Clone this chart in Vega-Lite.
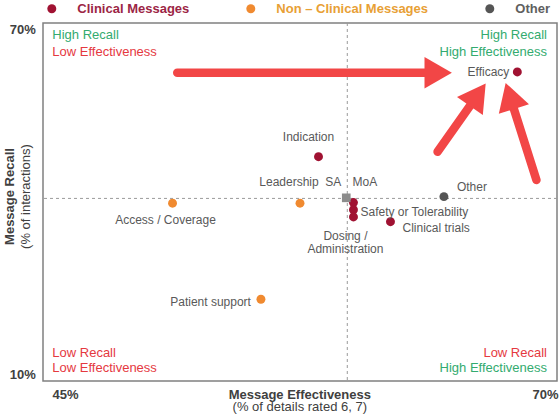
{
  "$schema": "https://vega.github.io/schema/vega-lite/v6.json",
  "width": 514,
  "height": 358,
  "autosize": {"type": "none"},
  "padding": {"left": 43, "top": 23, "right": 3, "bottom": 36},
  "background": "white",
  "config": {
    "font": "Liberation Sans",
    "view": {"stroke": "#808080", "strokeWidth": 1.5},
    "axis": {"grid": false, "ticks": false, "domain": false, "labelFont": "Liberation Sans", "titleFont": "Liberation Sans"},
    "text": {"font": "Liberation Sans"},
    "legend": {"labelFont": "Liberation Sans"}
  },
  "datasets": {
    "points": [
      {"name": "Efficacy", "type": "Clinical Messages", "x": 68.07, "y": 61.8},
      {"name": "Indication", "type": "Clinical Messages", "x": 58.4, "y": 47.6},
      {"name": "Leadership", "type": "Non – Clinical Messages", "x": 57.5, "y": 39.8},
      {"name": "Access / Coverage", "type": "Non – Clinical Messages", "x": 51.3, "y": 39.8},
      {"name": "SA", "type": "Average", "x": 59.75, "y": 40.7},
      {"name": "MoA", "type": "Clinical Messages", "x": 60.1, "y": 39.9},
      {"name": "Safety or Tolerability", "type": "Clinical Messages", "x": 60.1, "y": 38.7},
      {"name": "Dosing /\nAdministration", "type": "Clinical Messages", "x": 60.1, "y": 37.5},
      {"name": "Clinical trials", "type": "Clinical Messages", "x": 61.9, "y": 36.7},
      {"name": "Other", "type": "Other", "x": 64.5, "y": 40.9},
      {"name": "Patient support", "type": "Non – Clinical Messages", "x": 55.6, "y": 23.7}
    ],
    "cross": [{"x": 59.8, "y": 40.6}],
    "quadrants": [
      {"corner": "top-left", "recall": "High Recall", "effectiveness": "Low Effectiveness"},
      {"corner": "top-right", "recall": "High Recall", "effectiveness": "High Effectiveness"},
      {"corner": "bottom-left", "recall": "Low Recall", "effectiveness": "Low Effectiveness"},
      {"corner": "bottom-right", "recall": "Low Recall", "effectiveness": "High Effectiveness"}
    ],
    "arrows": [
      {"arrow": "horizontal", "x": 51.53, "y": 61.67, "x2": 64.0, "y2": 61.67},
      {"arrow": "diagonal", "x": 64.19, "y": 48.43, "x2": 66.02, "y2": 57.34},
      {"arrow": "steep", "x": 69.0, "y": 43.69, "x2": 67.77, "y2": 57.03}
    ]
  },
  "layer": [
    {
      "data": {"name": "cross"},
      "layer": [
        {
          "mark": {"type": "rule", "color": "#9a9a9a", "strokeDash": [3, 3], "strokeWidth": 1},
          "encoding": {
            "x": {"field": "x", "type": "quantitative", "scale": {"domain": [45, 70], "nice": false, "zero": false},
              "axis": {"orient": "bottom", "title": "(% of details rated 6, 7)", "labels": false, "ticks": false, "domain": false, "grid": false,
                "titleFontSize": 13, "titleFontWeight": "normal", "titleColor": "#404040", "titleX": 256.3, "titleY": 25, "titleBaseline": "middle", "titleAlign": "center"}}
          }
        },
        {
          "mark": {"type": "rule", "color": "#9a9a9a", "strokeDash": [3, 3], "strokeWidth": 1},
          "encoding": {
            "y": {"field": "y", "type": "quantitative", "scale": {"domain": [10, 70], "nice": false, "zero": false},
              "axis": {"orient": "left", "title": "(% of interactions)", "labels": false, "ticks": false, "domain": false, "grid": false,
                "titleFontSize": 13, "titleFontWeight": "normal", "titleColor": "#404040", "titleAngle": 270, "titleX": -17.7, "titleY": 173, "titleBaseline": "middle", "titleAlign": "center"}}
          }
        }
      ]
    },
    {
      "data": {"name": "points"},
      "layer": [
        {
          "transform": [{"filter": "datum.type !== 'Average'"}],
          "mark": {"type": "circle", "size": 80, "opacity": 1},
          "encoding": {
            "x": {"field": "x", "type": "quantitative", "scale": {"domain": [45, 70], "nice": false, "zero": false},
              "axis": {"orient": "bottom", "values": [45, 70], "labelExpr": "datum.value + '%'", "title": "Message Effectiveness", "labelFontSize": 13, "labelFontWeight": "bold", "labelColor": "#404040",
                "labelPadding": 7, "labelAlign": {"condition": {"test": "datum.value < 50", "value": "left"}, "value": "right"},
                "labelOffset": {"condition": {"test": "datum.value < 50", "value": 9}, "value": 1},
                "titleFontSize": 13, "titleFontWeight": "bold", "titleColor": "#404040", "titleX": 256.3, "titleY": 13, "titleBaseline": "middle", "titleAlign": "center"}},
            "y": {"field": "y", "type": "quantitative", "scale": {"domain": [10, 70], "nice": false, "zero": false},
              "axis": {"orient": "left", "values": [10, 70], "labelExpr": "datum.value + '%'", "title": "Message Recall", "labelFontSize": 13, "labelFontWeight": "bold", "labelColor": "#404040",
                "labelPadding": 7.7, "labelFlush": true,
                "titleFontSize": 13, "titleFontWeight": "bold", "titleColor": "#404040", "titleAngle": 270, "titleX": -33.4, "titleY": 173, "titleBaseline": "middle", "titleAlign": "center"}},
            "color": {"field": "type", "type": "nominal",
              "scale": {"domain": ["Clinical Messages", "Non – Clinical Messages", "Other"], "range": ["#a01232", "#f08a30", "#555555"]},
              "legend": {"orient": "none", "legendX": 2.3, "legendY": -21, "direction": "horizontal", "title": null, "padding": 0,
                "symbolType": "circle", "symbolSize": 80, "symbolOpacity": 1, "symbolStrokeWidth": 0,
                "labelFontSize": 13, "labelFontWeight": "bold", "labelOffset": 19, "labelLimit": 300, "columnPadding": 55,
                "encode": {"labels": {"update": {"fill": {"signal": "datum.label === 'Clinical Messages' ? '#9c2545' : datum.label === 'Other' ? '#606060' : '#e8a035'"}}}}}}
          }
        },
        {
          "transform": [{"filter": "datum.type === 'Average'"}],
          "mark": {"type": "square", "size": 75, "color": "#8c8c8c", "opacity": 1},
          "encoding": {"x": {"field": "x", "type": "quantitative"}, "y": {"field": "y", "type": "quantitative"}}
        },
        {
          "transform": [{"filter": "datum.name === 'Efficacy'"}],
          "mark": {"type": "text", "align": "right", "baseline": "middle", "dx": -8, "dy": 0, "fontSize": 12, "color": "#595959"},
          "encoding": {"x": {"field": "x", "type": "quantitative"}, "y": {"field": "y", "type": "quantitative"}, "text": {"field": "name"}}
        },
        {
          "transform": [{"filter": "datum.name === 'Indication'"}],
          "mark": {"type": "text", "align": "center", "baseline": "middle", "dx": -10, "dy": -20, "fontSize": 12, "color": "#595959"},
          "encoding": {"x": {"field": "x", "type": "quantitative"}, "y": {"field": "y", "type": "quantitative"}, "text": {"field": "name"}}
        },
        {
          "transform": [{"filter": "datum.name === 'Leadership'"}],
          "mark": {"type": "text", "align": "center", "baseline": "middle", "dx": -11, "dy": -21, "fontSize": 12, "color": "#595959"},
          "encoding": {"x": {"field": "x", "type": "quantitative"}, "y": {"field": "y", "type": "quantitative"}, "text": {"field": "name"}}
        },
        {
          "transform": [{"filter": "datum.name === 'SA'"}],
          "mark": {"type": "text", "align": "right", "baseline": "middle", "dx": -5, "dy": -16, "fontSize": 12, "color": "#595959"},
          "encoding": {"x": {"field": "x", "type": "quantitative"}, "y": {"field": "y", "type": "quantitative"}, "text": {"field": "name"}}
        },
        {
          "transform": [{"filter": "datum.name === 'MoA'"}],
          "mark": {"type": "text", "align": "left", "baseline": "middle", "dx": -1, "dy": -21, "fontSize": 12, "color": "#595959"},
          "encoding": {"x": {"field": "x", "type": "quantitative"}, "y": {"field": "y", "type": "quantitative"}, "text": {"field": "name"}}
        },
        {
          "transform": [{"filter": "datum.name === 'Safety or Tolerability'"}],
          "mark": {"type": "text", "align": "left", "baseline": "middle", "dx": 7, "dy": 2, "fontSize": 12, "color": "#595959"},
          "encoding": {"x": {"field": "x", "type": "quantitative"}, "y": {"field": "y", "type": "quantitative"}, "text": {"field": "name"}}
        },
        {
          "transform": [{"filter": "indexof(datum.name, 'Dosing') === 0"}],
          "mark": {"type": "text", "align": "center", "baseline": "middle", "dx": -8, "dy": 19.5, "fontSize": 12, "lineHeight": 12.5, "lineBreak": "\n", "color": "#595959"},
          "encoding": {"x": {"field": "x", "type": "quantitative"}, "y": {"field": "y", "type": "quantitative"}, "text": {"field": "name"}}
        },
        {
          "transform": [{"filter": "datum.name === 'Clinical trials'"}],
          "mark": {"type": "text", "align": "left", "baseline": "middle", "dx": 12, "dy": 6.5, "fontSize": 12, "color": "#595959"},
          "encoding": {"x": {"field": "x", "type": "quantitative"}, "y": {"field": "y", "type": "quantitative"}, "text": {"field": "name"}}
        },
        {
          "transform": [{"filter": "datum.name === 'Other'"}],
          "mark": {"type": "text", "align": "left", "baseline": "middle", "dx": 13, "dy": -10, "fontSize": 12, "color": "#595959"},
          "encoding": {"x": {"field": "x", "type": "quantitative"}, "y": {"field": "y", "type": "quantitative"}, "text": {"field": "name"}}
        },
        {
          "transform": [{"filter": "datum.name === 'Access / Coverage'"}],
          "mark": {"type": "text", "align": "center", "baseline": "middle", "dx": -7, "dy": 17, "fontSize": 12, "color": "#595959"},
          "encoding": {"x": {"field": "x", "type": "quantitative"}, "y": {"field": "y", "type": "quantitative"}, "text": {"field": "name"}}
        },
        {
          "transform": [{"filter": "datum.name === 'Patient support'"}],
          "mark": {"type": "text", "align": "right", "baseline": "middle", "dx": -10, "dy": 2.5, "fontSize": 12, "color": "#595959"},
          "encoding": {"x": {"field": "x", "type": "quantitative"}, "y": {"field": "y", "type": "quantitative"}, "text": {"field": "name"}}
        },
        {
          "data": {"name": "quadrants"},
          "transform": [{"filter": "datum.corner === 'top-left'"}],
          "layer": [
            {"mark": {"type": "text", "align": "left", "baseline": "middle", "dx": 9.3, "dy": 12.3, "fontSize": 13, "color": "#33ab6f"},
             "encoding": {"x": {"datum": 45, "type": "quantitative"}, "y": {"datum": 70, "type": "quantitative"}, "text": {"field": "recall"}}},
            {"mark": {"type": "text", "align": "left", "baseline": "middle", "dx": 9.3, "dy": 29.3, "fontSize": 13, "color": "#e5393f"},
             "encoding": {"x": {"datum": 45, "type": "quantitative"}, "y": {"datum": 70, "type": "quantitative"}, "text": {"field": "effectiveness"}}}
          ]
        },
        {
          "data": {"name": "quadrants"},
          "transform": [{"filter": "datum.corner === 'top-right'"}],
          "layer": [
            {"mark": {"type": "text", "align": "right", "baseline": "middle", "dx": -10, "dy": 12.3, "fontSize": 13, "color": "#33ab6f"},
             "encoding": {"x": {"datum": 70, "type": "quantitative"}, "y": {"datum": 70, "type": "quantitative"}, "text": {"field": "recall"}}},
            {"mark": {"type": "text", "align": "right", "baseline": "middle", "dx": -10, "dy": 29.3, "fontSize": 13, "color": "#33ab6f"},
             "encoding": {"x": {"datum": 70, "type": "quantitative"}, "y": {"datum": 70, "type": "quantitative"}, "text": {"field": "effectiveness"}}}
          ]
        },
        {
          "data": {"name": "quadrants"},
          "transform": [{"filter": "datum.corner === 'bottom-left'"}],
          "layer": [
            {"mark": {"type": "text", "align": "left", "baseline": "middle", "dx": 9.3, "dy": -28, "fontSize": 13, "color": "#e5393f"},
             "encoding": {"x": {"datum": 45, "type": "quantitative"}, "y": {"datum": 10, "type": "quantitative"}, "text": {"field": "recall"}}},
            {"mark": {"type": "text", "align": "left", "baseline": "middle", "dx": 9.3, "dy": -13, "fontSize": 13, "color": "#e5393f"},
             "encoding": {"x": {"datum": 45, "type": "quantitative"}, "y": {"datum": 10, "type": "quantitative"}, "text": {"field": "effectiveness"}}}
          ]
        },
        {
          "data": {"name": "quadrants"},
          "transform": [{"filter": "datum.corner === 'bottom-right'"}],
          "layer": [
            {"mark": {"type": "text", "align": "right", "baseline": "middle", "dx": -10, "dy": -28, "fontSize": 13, "color": "#e5393f"},
             "encoding": {"x": {"datum": 70, "type": "quantitative"}, "y": {"datum": 10, "type": "quantitative"}, "text": {"field": "recall"}}},
            {"mark": {"type": "text", "align": "right", "baseline": "middle", "dx": -10, "dy": -13, "fontSize": 13, "color": "#33ab6f"},
             "encoding": {"x": {"datum": 70, "type": "quantitative"}, "y": {"datum": 10, "type": "quantitative"}, "text": {"field": "effectiveness"}}}
          ]
        },
        {
          "data": {"name": "arrows"},
          "layer": [
            {"mark": {"type": "rule", "color": "#f24646", "strokeWidth": 8.5, "strokeCap": "round"},
             "encoding": {"x": {"field": "x", "type": "quantitative"}, "y": {"field": "y", "type": "quantitative"},
               "x2": {"field": "x2"}, "y2": {"field": "y2"}}},
            {"transform": [{"filter": "datum.arrow === 'horizontal'"}],
             "mark": {"type": "point", "shape": "triangle", "filled": true, "size": 1000, "angle": 90, "color": "#f24646", "opacity": 1},
             "encoding": {"x": {"field": "x2", "type": "quantitative"}, "y": {"field": "y2", "type": "quantitative"}}},
            {"transform": [{"filter": "datum.arrow === 'diagonal'"}],
             "mark": {"type": "point", "shape": "triangle", "filled": true, "size": 1000, "angle": 35.2, "color": "#f24646", "opacity": 1},
             "encoding": {"x": {"field": "x2", "type": "quantitative"}, "y": {"field": "y2", "type": "quantitative"}}},
            {"transform": [{"filter": "datum.arrow === 'steep'"}],
             "mark": {"type": "point", "shape": "triangle", "filled": true, "size": 1000, "angle": 342.5, "color": "#f24646", "opacity": 1},
             "encoding": {"x": {"field": "x2", "type": "quantitative"}, "y": {"field": "y2", "type": "quantitative"}}}
          ]
        }
      ]
    }
  ],
  "resolve": {"scale": {"x": "independent", "y": "independent"}, "axis": {"x": "independent", "y": "independent"}}
}
